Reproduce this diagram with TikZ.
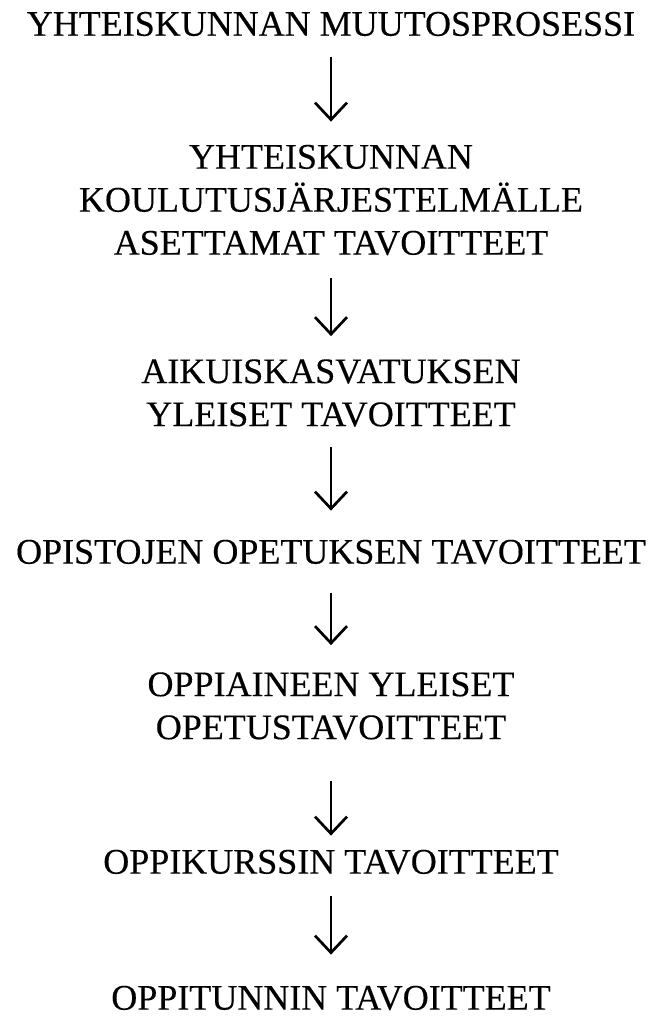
\documentclass[tikz,border=0pt]{standalone}
\usepackage{fontspec}
\setmainfont{Liberation Serif}[FakeBold=0.3]
\usetikzlibrary{arrows.meta}

\begin{document}
\begin{tikzpicture}[x=1pt,y=-1pt,
  every node/.style={align=center,inner sep=0pt,font=\fontsize{36}{43}\selectfont},
  goal/.style={},
  step arrow/.style={line width=2.7pt,-{Straight Barb[length=17pt,width=32pt,line width=2.7pt]},shorten <=23pt,shorten >=23pt}]
  \useasboundingbox (0,0) rectangle (663,1018);
  \node [goal](process) at (331,24) {YHTEISKUNNAN MUUTOSPROSESSI};
    \node [goal](system) at (331,200) {YHTEISKUNNAN\\KOULUTUSJÄRJESTELMÄLLE\\ASETTAMAT TAVOITTEET};
    \node [goal](adult) at (331,393) {AIKUISKASVATUKSEN\\YLEISET TAVOITTEET};
    \node [goal](college) at (331,552) {OPISTOJEN OPETUKSEN TAVOITTEET};
    \node [goal](subject) at (331,706) {OPPIAINEEN YLEISET\\OPETUSTAVOITTEET};
    \node [goal](course) at (331,862) {OPPIKURSSIN TAVOITTEET};
    \node [goal](lesson) at (331,998) {OPPITUNNIN TAVOITTEET};
    \draw [step arrow,shorten <=21pt] (process) -- (system);
    \draw [step arrow] (system) -- (adult);
    \draw [step arrow,shorten <=20pt,shorten >=29pt] (adult) -- (college);
    \draw [step arrow,shorten <=29pt,shorten >=27pt] (college) -- (subject);
    \draw [step arrow,shorten <=41pt,shorten >=14pt] (subject) -- (course);
    \draw [step arrow,shorten <=22pt,shorten >=31pt] (course) -- (lesson);
\end{tikzpicture}
\end{document}
